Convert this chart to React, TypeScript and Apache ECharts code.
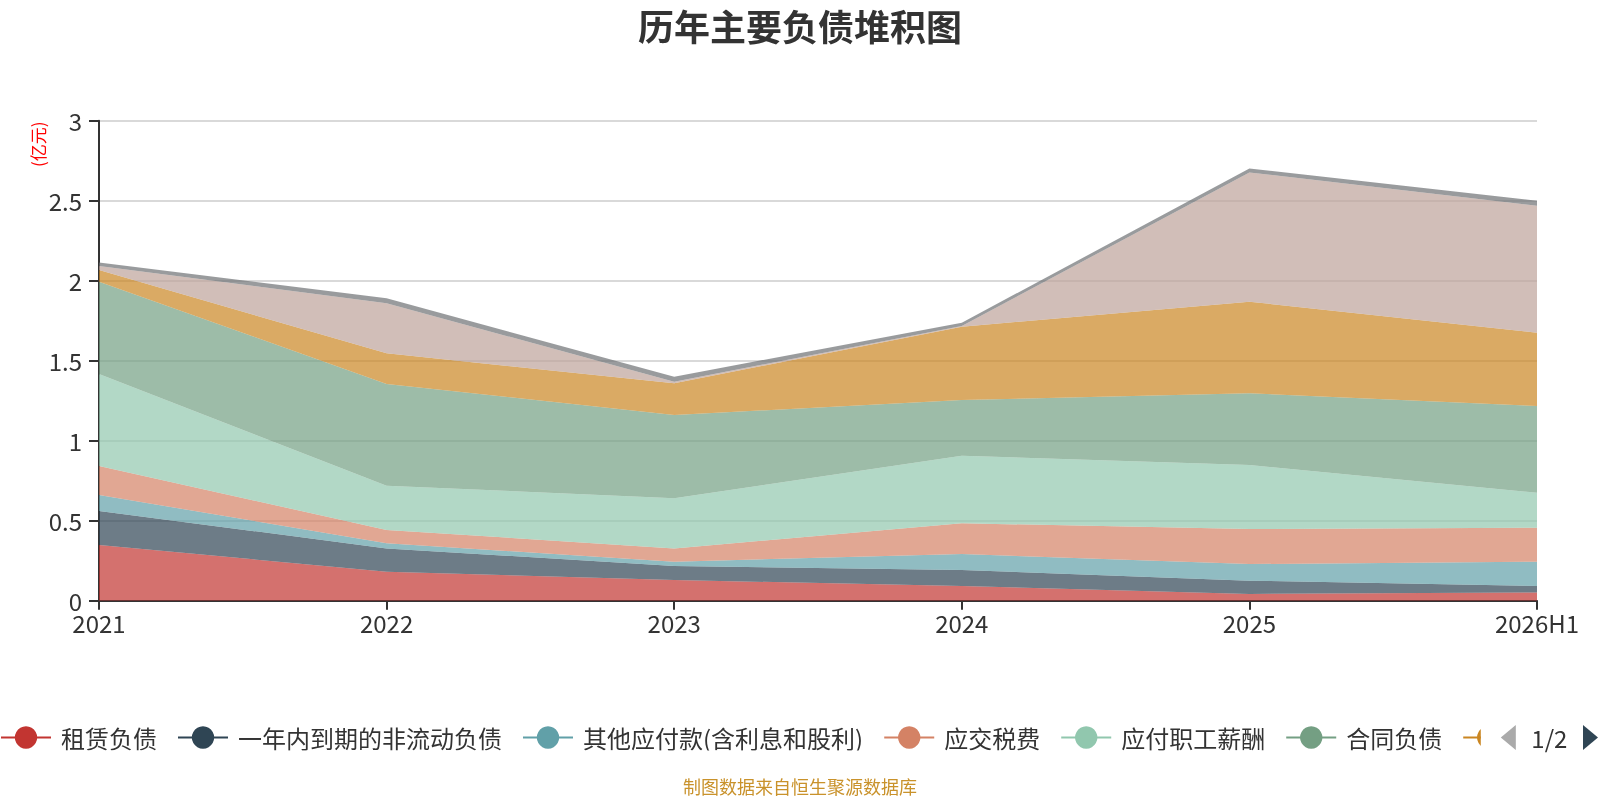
import React, { useEffect, useRef } from "react";
import * as echarts from "echarts";

const categories = ["2021", "2022", "2023", "2024", "2025", "2026H1"];

const seriesNames = [
  "租赁负债",
  "一年内到期的非流动负债",
  "其他应付款(含利息和股利)",
  "应交税费",
  "应付职工薪酬",
  "合同负债",
  "应付账款",
  "其他流动负债",
  "递延收益",
];

const leaseLiab = [0.348, 0.181, 0.129, 0.092, 0.042, 0.052];
const currentNonCurrent = [0.213, 0.146, 0.088, 0.1, 0.083, 0.04];
const otherPayables = [0.1, 0.032, 0.027, 0.1, 0.104, 0.152];
const taxesPayable = [0.181, 0.083, 0.083, 0.192, 0.219, 0.212];
const payroll = [0.575, 0.277, 0.313, 0.422, 0.4, 0.219];
const contractLiab = [0.577, 0.635, 0.521, 0.348, 0.448, 0.542];
const accountsPayable = [0.073, 0.192, 0.198, 0.458, 0.573, 0.458];
const otherCurrent = [0.025, 0.313, 0.01, 0.005, 0.808, 0.794];
const deferred = [0.021, 0.031, 0.031, 0.02, 0.025, 0.031];

const seriesValues = [
  leaseLiab,
  currentNonCurrent,
  otherPayables,
  taxesPayable,
  payroll,
  contractLiab,
  accountsPayable,
  otherCurrent,
  deferred,
];

const colors = [
  "#c23531",
  "#2f4554",
  "#61a0a8",
  "#d48265",
  "#91c7ae",
  "#749f83",
  "#ca8622",
  "#bda29a",
  "#6e7074",
];

const FONT = "'Noto Sans CJK SC', 'Noto Sans', sans-serif";

export default function App() {
  const ref = useRef<HTMLDivElement>(null);

  useEffect(() => {
    if (!ref.current) return;
    const chart = echarts.init(ref.current, undefined, { renderer: "svg" });
    chart.setOption({
      animation: false,
      color: colors,
      textStyle: { fontFamily: FONT },
      title: [
        {
          text: "历年主要负债堆积图",
          left: "center",
          top: 2,
          textStyle: {
            fontSize: 36,
            fontWeight: "bold",
            color: "#333",
            fontFamily: FONT,
          },
        },
        {
          text: "制图数据来自恒生聚源数据库",
          left: "center",
          bottom: 0,
          textStyle: {
            fontSize: 18,
            fontWeight: "normal",
            color: "#c9922b",
            fontFamily: FONT,
          },
        },
      ],
      grid: { left: 99, right: 63, top: 120.7, bottom: 199.3, containLabel: false },
      legend: {
        type: "scroll",
        left: 0,
        right: 0,
        top: 720,
        padding: [5, 2, 5, 0],
        itemWidth: 50,
        itemHeight: 28,
        itemGap: 20,
        data: seriesNames,
        lineStyle: { width: 2, opacity: 1 },
        textStyle: {
          fontSize: 24,
          color: "#333",
          fontFamily: FONT,
          padding: [0, 0, 0, 5],
        },
        pageIconSize: [15, 28],
        pageIconColor: "#2f4554",
        pageIconInactiveColor: "#aaa",
        pageTextStyle: { fontSize: 24, color: "#333", fontFamily: FONT },
      },
      xAxis: {
        type: "category",
        data: categories,
        boundaryGap: false,
        axisLine: { lineStyle: { color: "#333", width: 2 } },
        axisTick: { length: 9, lineStyle: { color: "#333", width: 2 } },
        axisLabel: { fontSize: 24, color: "#333", margin: 10, fontFamily: FONT },
        splitLine: { show: false },
      },
      yAxis: {
        type: "value",
        min: 0,
        max: 3,
        interval: 0.5,
        axisLine: { show: true, lineStyle: { color: "#333", width: 2 } },
        axisTick: { show: true, length: 10, lineStyle: { color: "#333", width: 2 } },
        axisLabel: { fontSize: 24, color: "#333", margin: 17, fontFamily: FONT },
        splitLine: { show: true, lineStyle: { color: "#ccc", width: 1.5 } },
      },
      graphic: [
        {
          type: "text",
          x: 37,
          y: 167,
          rotation: Math.PI / 2,
          style: {
            text: "(亿元)",
            fill: "#ff0000",
            font: `17px ${FONT}`,
            fontSize: 17,
            fontFamily: FONT,
            align: "left",
            verticalAlign: "middle",
            textAlign: "left",
            textVerticalAlign: "middle",
          },
        },
      ],
      series: seriesNames.map((name, i) => ({
        name,
        type: "line",
        stack: "total",
        data: seriesValues[i],
        symbol: "circle",
        showSymbol: false,
        lineStyle: { width: 0 },
        areaStyle: { opacity: 0.7 },
        itemStyle: { color: colors[i] },
        emphasis: { disabled: true },
      })),
    });
    return () => chart.dispose();
  }, []);

  return (
    <div
      ref={ref}
      style={{ position: "fixed", left: 0, top: 0, width: 1600, height: 800 }}
    />
  );
}
